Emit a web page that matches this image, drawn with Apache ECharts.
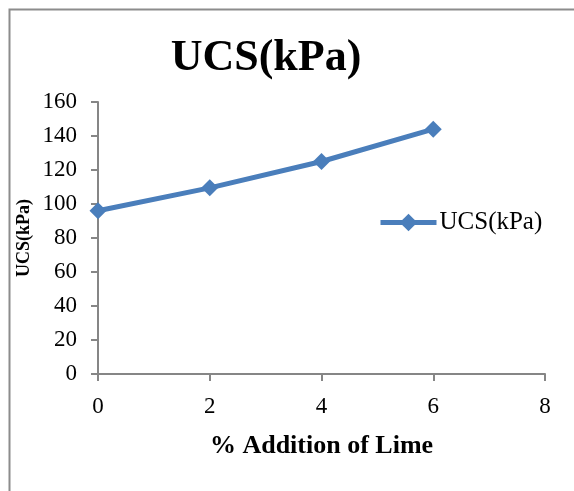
<!DOCTYPE html>
<html><head><meta charset="utf-8">
<script src="https://cdn.jsdelivr.net/npm/echarts@6/dist/echarts.min.js"></script>
<style>html,body{margin:0;padding:0;background:#fff}#c{width:574px;height:491px}</style>
</head><body><div id="c"></div>
<script>
var xValues = [0, 2, 4, 6];
var ucsValues = [96, 109.5, 125, 144];
var seriesName = 'UCS(kPa)';
var chartTitle = 'UCS(kPa)';
var xAxisName = '% Addition of Lime';
var yAxisName = 'UCS(kPa)';

var chart = echarts.init(document.getElementById('c'));
var font = '"Liberation Serif", "Times New Roman", serif';
var blue = '#4a7ebb';
chart.setOption({
  animation: false,
  backgroundColor: '#fff',
  textStyle: {fontFamily: font},
  graphic: [{type: 'rect', left: 7, top: 7, shape: {width: 620, height: 620}, style: {fill: 'none', stroke: '#8c8c8c', lineWidth: 2}, z: -1}],
  title: {text: chartTitle, left: 261, textAlign: 'center', top: 32, textStyle: {fontFamily: font, fontSize: 44, fontWeight: 'bold', color: '#000'}},
  legend: {data: [{name: seriesName}], left: 373, top: 205, itemWidth: 56, itemHeight: 22, itemGap: 2,
    lineStyle: {width: 5, color: blue},
    textStyle: {fontFamily: font, fontSize: 25, color: '#000', padding: [0,0,0,-2]}},
  grid: {left: 98, right: 29, top: 102, bottom: 117, containLabel: false},
  xAxis: {type: 'value', min: 0, max: 8, interval: 2,
    name: xAxisName, nameLocation: 'middle', nameGap: 59,
    nameTextStyle: {fontFamily: font, fontSize: 26, fontWeight: 'bold', color: '#000'},
    axisLine: {show: true, lineStyle: {color: '#868686', width: 2}},
    axisTick: {show: true, length: 7, inside: false, lineStyle: {color: '#868686', width: 2}},
    axisLabel: {fontFamily: font, fontSize: 23, color: '#000', margin: 21},
    splitLine: {show: false}},
  yAxis: {type: 'value', min: 0, max: 160, interval: 20,
    name: yAxisName, nameLocation: 'middle', nameGap: 65, nameRotate: 90, nameMoveOverlap: false,
    nameTextStyle: {fontFamily: font, fontSize: 18, fontWeight: 'bold', color: '#000'},
    axisLine: {show: true, lineStyle: {color: '#868686', width: 2}},
    axisTick: {show: true, length: 7, lineStyle: {color: '#868686', width: 2}},
    axisLabel: {fontFamily: font, fontSize: 23, color: '#000', margin: 21},
    splitLine: {show: false}},
  series: [{name: seriesName, type: 'line', data: xValues.map(function(x, i){return [x, ucsValues[i]];}),
    symbol: 'diamond', symbolSize: 17, lineStyle: {color: blue, width: 5},
    itemStyle: {color: blue}, z: 3}]
});
</script></body></html>
